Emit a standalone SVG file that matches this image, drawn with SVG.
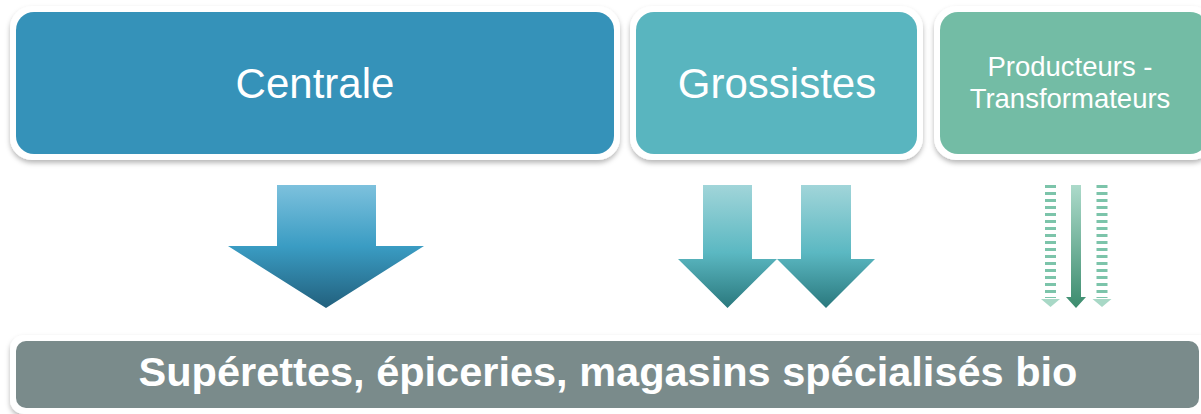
<svg xmlns="http://www.w3.org/2000/svg" width="1201" height="414" viewBox="0 0 1201 414">
<style>
.frame{fill:#ffffff;filter:url(#sh)}
.lbl{font-family:"Liberation Sans",Arial,sans-serif;fill:#ffffff;text-anchor:middle}
.dash{stroke:#7cc4aa;stroke-width:11;stroke-dasharray:3 4;fill:none}
</style>
<defs>
<filter id="sh" x="-5%" y="-10%" width="110%" height="130%">
<feDropShadow dx="0" dy="3" stdDeviation="2.5" flood-color="#000000" flood-opacity="0.28"/>
</filter>
<linearGradient id="g1" x1="0" y1="0" x2="0" y2="1">
<stop offset="0" stop-color="#7dc1dd"/>
<stop offset="0.5" stop-color="#3a9cc3"/>
<stop offset="1" stop-color="#22607d"/>
</linearGradient>
<linearGradient id="g2" x1="0" y1="0" x2="0" y2="1">
<stop offset="0" stop-color="#a1d5d9"/>
<stop offset="0.55" stop-color="#5bb8c2"/>
<stop offset="1" stop-color="#2a787d"/>
</linearGradient>
<linearGradient id="g3" x1="0" y1="0" x2="0" y2="1">
<stop offset="0" stop-color="#acdaca"/>
<stop offset="1" stop-color="#3c8c6e"/>
</linearGradient>
</defs>

<g id="centrale">
<rect class="frame" x="10" y="6" width="610" height="154" rx="22"/>
<rect x="16" y="12" width="598" height="142" rx="18" fill="#3592b9"/>
<text class="lbl" x="315" y="98" font-size="42">Centrale</text>
</g>

<g id="grossistes">
<rect class="frame" x="630" y="6" width="293" height="154" rx="22"/>
<rect x="636" y="12" width="281" height="142" rx="18" fill="#59b5bf"/>
<text class="lbl" x="777" y="98" font-size="42">Grossistes</text>
</g>

<g id="producteurs">
<rect class="frame" x="934" y="6" width="280" height="154" rx="22"/>
<rect x="940" y="12" width="268" height="142" rx="18" fill="#73bca5"/>
<text class="lbl" x="1070" y="76" font-size="27.5">Producteurs -</text>
<text class="lbl" x="1070" y="108" font-size="27.5">Transformateurs</text>
</g>

<g id="magasins">
<rect class="frame" x="10" y="335" width="1204" height="79" rx="14"/>
<rect x="16" y="341" width="1183" height="67" rx="10" fill="#7a8b8b"/>
<text class="lbl" x="608" y="386" font-size="41.5" font-weight="bold">Supérettes, épiceries, magasins spécialisés bio</text>
</g>

<g id="connectors">
<polygon points="277,185 376,185 376,246 424,246 326,308 228,246 277,246" fill="url(#g1)"/>
<polygon points="703,185 752,185 752,259 777,259 727.5,308 678,259 703,259" fill="url(#g2)"/>
<polygon points="801,185 851,185 851,259 875,259 826,308 777,259 801,259" fill="url(#g2)"/>
<line class="dash" x1="1050.5" y1="185" x2="1050.5" y2="298"/>
<line class="dash" x1="1102" y1="185" x2="1102" y2="298"/>
<polygon points="1041,299 1060,299 1050.5,307" fill="#a8d8c6"/>
<polygon points="1092.5,299 1111.5,299 1102,307" fill="#a8d8c6"/>
<polygon points="1071,185 1081,185 1081,297 1086,297 1076,308 1066,297 1071,297" fill="url(#g3)"/>
</g>
</svg>
